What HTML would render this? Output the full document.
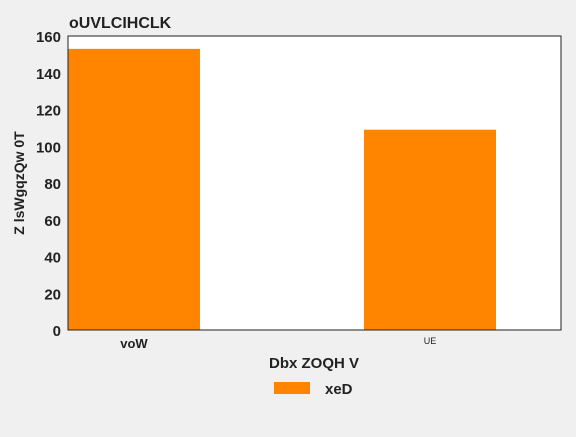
<!DOCTYPE html>
<html><head><meta charset="utf-8"><style>
body{margin:0;background:#f0f0f0;width:576px;height:432px;overflow:hidden;font-family:"Liberation Sans",sans-serif;}
svg text{font-family:"Liberation Sans",sans-serif;fill:#222;}
</style></head><body>
<svg id="chart" width="576" height="432">
<rect x="0" y="0" width="576" height="432" fill="#f0f0f0"/>
<text x="69" y="28" font-size="16" font-weight="bold">oUVLCIHCLK</text>
<rect x="68" y="36" width="493" height="294" fill="#fff"/>
<g id="bars"></g>
<rect x="68" y="36" width="493" height="294" fill="none" stroke="#222" stroke-width="1"/>
<g id="yticks"></g>
<g id="xticks"></g>
<text x="24" y="183" font-size="14" font-weight="bold" text-anchor="middle" transform="rotate(-90 24 183)">Z lsWgqzQw 0T</text>
<text x="314" y="368" font-size="15" font-weight="bold" text-anchor="middle">Dbx ZOQH V</text>
<g>
<rect x="274" y="382" width="36" height="12" fill="#ff8400"/>
<text x="325" y="394" font-size="15" font-weight="bold">xeD</text>
</g>
</svg>
<script>
const categories=["voW","UE"];
const values=[153,109];
const yTicks=[0,20,40,60,80,100,120,140,160];
const ns="http://www.w3.org/2000/svg";
const x0=68,x1=561,y0=330,y1=36,yMax=160;
function yScale(v){return y0-(v/yMax)*(y0-y1);}
const slotW=(x1-x0)/categories.length;
function xLeft(i){return x0+i*(slotW+ (slotW-132)/ (categories.length-1||1) *0) + i*(slotW*0.2);}
const barW=132;
function barX(i){return i===0?x0:x0+i*(364-68);}
const bars=document.getElementById('bars');
values.forEach((v,i)=>{
 const r=document.createElementNS(ns,'rect');
 r.setAttribute('x',x0+i*296);r.setAttribute('y',yScale(v));
 r.setAttribute('width',barW);r.setAttribute('height',y0-yScale(v));
 r.setAttribute('fill','#ff8400');
 
 
 bars.appendChild(r);
});
const yt=document.getElementById('yticks');
yTicks.forEach(t=>{
 const e=document.createElementNS(ns,'text');
 e.setAttribute('x',61);e.setAttribute('y',yScale(t)+6);
 e.setAttribute('text-anchor','end');e.setAttribute('font-size','15');e.setAttribute('font-weight','bold');
 e.textContent=t;
 
 
 yt.appendChild(e);
});
const xt=document.getElementById('xticks');
categories.forEach((c,i)=>{
 const e=document.createElementNS(ns,'text');
 e.setAttribute('x',x0+i*296+barW/2);
 e.setAttribute('y',i===0?348:344);
 e.setAttribute('text-anchor','middle');
 e.setAttribute('font-size',i===0?'13':'9');
 if(i===0)e.setAttribute('font-weight','bold');
 e.textContent=c;
 
 
 xt.appendChild(e);
});
</script>
</body></html>
